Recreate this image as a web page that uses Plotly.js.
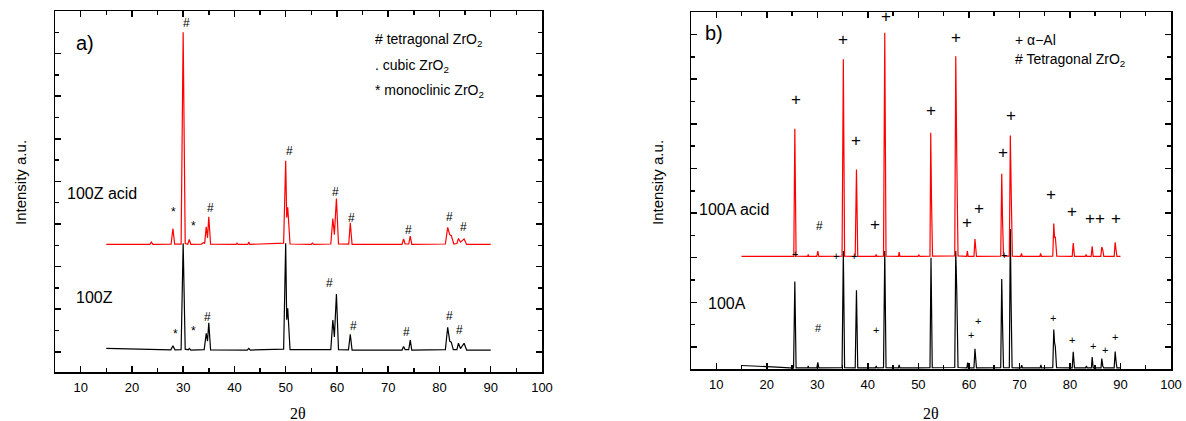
<!DOCTYPE html>
<html>
<head>
<meta charset="utf-8">
<script src="https://cdn.plot.ly/plotly-3.0.1.min.js"></script>
<style>html,body{margin:0;padding:0;background:#fff;}#chart{width:1186px;height:421px;}</style>
</head>
<body>
<div id="chart"></div>
<script>
// Panel a) 100Z pattern (black) — vertices
var zX = [15,20,25,27.6,28.0,28.4,29.6,30.0,30.4,31.0,31.2,31.5,34.1,34.5,34.75,35.0,35.35,42.5,42.8,43.1,49.6,50.0,50.2,50.4,50.85,58.8,59.2,59.5,59.9,60.3,62.25,62.6,62.95,72.7,73.0,73.3,74.0,74.3,74.6,81.15,81.6,82.0,82.3,82.7,83.4,83.7,84.1,84.8,85.3,90];
var zY = [0.16,0.13,0.1,0.09,0.28,0.09,0.1,5.1,0.12,0.09,0.16,0.08,0.1,0.86,0.5,1.36,0.09,0.08,0.16,0.08,0.12,5.09,1.5,2.04,0.1,0.1,1.49,0.7,2.71,0.1,0.09,0.82,0.08,0.08,0.25,0.1,0.1,0.55,0.08,0.1,1.15,0.5,0.45,0.1,0.1,0.4,0.15,0.4,0.08,0.08];
// Panel a) 100Z acid pattern (red, offset as drawn)
var zaX = [15,23.5,23.8,24.1,27.65,28.0,28.35,29.6,30.0,30.4,30.9,31.2,31.5,33.6,33.9,34.2,34.5,34.75,35.0,35.35,40.3,40.5,40.7,42.6,42.8,43.0,49.6,50.0,50.2,50.4,50.85,55.0,55.2,55.5,58.8,59.2,59.5,59.9,60.3,62.3,62.6,62.95,72.7,73.0,73.3,74.0,74.3,74.6,81.15,81.6,82.0,82.3,82.8,83.4,83.7,84.1,84.8,85.3,90];
var zaY = [5.04,5.04,5.15,5.04,5.05,5.79,5.05,5.05,15.0,5.08,5.05,5.27,5.04,5.05,5.12,5.1,5.87,5.35,6.34,5.05,5.04,5.1,5.04,5.04,5.15,5.04,5.1,8.97,6.3,6.78,5.06,5.04,5.1,5.04,5.06,6.26,5.5,7.2,5.06,5.05,6.06,5.04,5.04,5.3,5.06,5.06,5.43,5.04,5.06,5.84,5.5,5.45,5.06,5.08,5.32,5.15,5.3,5.04,5.04];
// Panel b) 100A pattern (black)
var aX = [15,18,22,25.3,25.55,25.8,28.1,28.2,28.3,29.9,30.1,30.3,34.9,35.15,35.4,37.5,37.75,38.0,41.5,41.65,41.8,43.1,43.35,43.6,46.05,46.2,46.35,50,52.3,52.5,52.6,52.75,57.2,57.4,57.6,57.85,59.6,59.75,59.9,61.0,61.2,61.35,61.5,66.3,66.5,66.65,66.85,68.0,68.2,68.35,68.55,70.3,70.45,70.6,74.1,74.25,74.4,76.6,76.8,76.95,77.1,77.35,80.45,80.65,80.9,83.1,83.25,83.4,84.25,84.4,84.6,86.15,86.3,86.5,86.7,88.75,88.95,89.15,89.3,90];
var aY = [-0.83,-0.85,-0.9,-0.95,2.94,-0.94,-0.94,-0.85,-0.94,-0.94,-0.69,-0.94,-0.93,4.3,-0.93,-0.94,2.54,-0.94,-0.94,-0.85,-0.94,-0.93,4.3,-0.93,-0.94,-0.8,-0.94,-0.94,-0.93,4.0,1.6,-0.93,-0.92,4.3,2.5,-0.92,-0.94,-0.7,-0.94,-0.94,-0.08,-0.5,-0.94,-0.93,3.05,1.1,-0.93,-0.93,5.29,2.05,-0.93,-0.94,-0.82,-0.94,-0.94,-0.8,-0.94,-0.93,0.78,0.2,0.03,-0.93,-0.94,-0.22,-0.94,-0.94,-0.85,-0.94,-0.94,-0.45,-0.94,-0.94,-0.52,-0.85,-0.94,-0.94,-0.2,-0.7,-0.94,-0.94];
// Panel b) 100A acid pattern (red)
var aaX = [15,25.35,25.55,25.8,28.1,28.2,28.3,29.9,30.1,30.3,34.9,35.15,35.4,37.5,37.75,38.0,41.5,41.65,41.8,43.1,43.35,43.6,46.05,46.2,46.35,49.9,50.1,50.3,52.3,52.45,52.6,52.8,57.2,57.4,57.6,57.85,59.55,59.7,59.85,61.0,61.2,61.35,61.5,66.3,66.5,66.65,66.85,68.0,68.2,68.4,68.6,70.25,70.4,70.55,74.05,74.2,74.35,76.6,76.8,76.95,77.1,77.4,80.45,80.65,80.9,83.05,83.2,83.35,84.2,84.4,84.6,86.1,86.3,86.5,86.7,88.75,88.95,89.15,89.3,90];
var aaY = [4.06,4.06,9.78,4.07,4.06,4.15,4.06,4.06,4.3,4.06,4.07,12.9,4.07,4.06,7.95,4.06,4.06,4.15,4.06,4.07,14.08,4.07,4.06,4.25,4.06,4.06,4.12,4.06,4.07,9.6,6.6,4.07,4.08,13.03,8.5,4.08,4.06,4.3,4.06,4.06,4.84,4.5,4.06,4.07,7.76,5.8,4.07,4.07,9.48,6.6,4.07,4.06,4.2,4.06,4.06,4.2,4.06,4.07,5.53,4.9,4.95,4.07,4.06,4.66,4.06,4.06,4.15,4.06,4.06,4.51,4.06,4.06,4.48,4.35,4.06,4.06,4.69,4.3,4.06,4.06];

// Peak markers, panel a
var markAText = ['#','*','*','#','#','#','#','#','#','#','*','*','#','#','#','#','#','#'];
var markAX = [30.7,28.1,32.0,35.4,50.8,59.8,62.8,73.9,81.9,84.7,28.45,32.0,34.75,58.47,63.3,73.55,81.9,83.9];
var markAY = [15.45,6.57,5.9,6.73,9.44,7.51,6.26,5.71,6.31,5.87,0.82,0.97,1.64,3.24,1.2,0.94,1.67,1.02];
// Peak markers, panel b (large)
var markBText = ['+','+','+','+','+','#','+','+','+','+','+','+','+','+','+','+','+'];
var markBX = [25.8,35.0,37.7,43.6,41.4,30.4,57.5,52.5,68.4,66.8,59.6,62.0,76.3,80.4,84.0,86.0,89.1];
var markBY = [11.1,13.78,9.25,14.83,5.48,5.44,13.88,10.6,10.37,8.73,5.59,6.2,6.83,6.08,5.78,5.74,5.78];
// Peak markers, panel b (small)
var markCText = ['+','+','+','+','#','+','+','+','+','+','+','+','+'];
var markCX = [25.6,33.7,37.3,67.0,30.3,41.55,60.45,61.9,76.6,80.4,84.5,87.0,89.0];
var markCY = [4.17,4.06,4.1,4.14,0.85,0.74,0.52,1.15,1.3,0.31,0.03,-0.15,0.43];

var FONT = 'Liberation Sans, Arial, sans-serif';

var traces = [
  {x: zX, y: zY, xaxis: 'x', yaxis: 'y', mode: 'lines', line: {color: '#000000', width: 1.2}, hoverinfo: 'skip'},
  {x: zaX, y: zaY, xaxis: 'x', yaxis: 'y', mode: 'lines', line: {color: '#ff0000', width: 1.2}, hoverinfo: 'skip'},
  {x: aX, y: aY, xaxis: 'x2', yaxis: 'y2', mode: 'lines', line: {color: '#000000', width: 1.2}, hoverinfo: 'skip'},
  {x: aaX, y: aaY, xaxis: 'x2', yaxis: 'y2', mode: 'lines', line: {color: '#ff0000', width: 1.2}, hoverinfo: 'skip'}
];

var ann = [];
function txt(xr, yr, x, y, t, size, anchor, fam) {
  ann.push({xref: xr, yref: yr, x: x, y: y, text: t, showarrow: false, xanchor: anchor || 'center', yanchor: 'middle',
    font: {family: fam || FONT, size: size, color: '#000000'}});
}
for (var i = 0; i < markAText.length; i++) txt('x', 'y', markAX[i], markAY[i], markAText[i], 12);
for (var j = 0; j < markBText.length; j++) txt('x2', 'y2', markBX[j], markBY[j], markBText[j], markBText[j] === '#' ? 12 : 17);
for (var k = 0; k < markCText.length; k++) txt('x2', 'y2', markCX[k], markCY[k], markCText[k], 11);

txt('x', 'y', 8.7, 14.48, 'a)', 20, 'left');
txt('x', 'y', 6.95, 7.44, '100Z acid', 16, 'left');
txt('x', 'y', 8.7, 2.54, '100Z', 16, 'left');
txt('x', 'y', 67.05, 14.63, '# tetragonal ZrO<sub>2</sub>', 14, 'left');
txt('x', 'y', 67.05, 13.43, '. cubic ZrO<sub>2</sub>', 14, 'left');
txt('x', 'y', 67.05, 12.25, '* monoclinic ZrO<sub>2</sub>', 14, 'left');

txt('x2', 'y2', 7.3, 14.08, 'b)', 20, 'left');
txt('x2', 'y2', 6.25, 6.16, '100A acid', 16, 'left');
txt('x2', 'y2', 7.97, 1.94, '100A', 16, 'left');
txt('x2', 'y2', 68.82, 13.78, '+ \u03b1\u2212Al', 14, 'left');
txt('x2', 'y2', 68.82, 12.84, '# Tetragonal ZrO<sub>2</sub>', 14, 'left');

// axis titles
ann.push({xref: 'paper', yref: 'paper', x: 20/1186, y: (421-183)/421, text: 'Intensity a.u.', textangle: -90, showarrow: false, xanchor: 'center', yanchor: 'middle', font: {family: FONT, size: 15, color: '#000'}});
ann.push({xref: 'paper', yref: 'paper', x: 657/1186, y: (421-183)/421, text: 'Intensity a.u.', textangle: -90, showarrow: false, xanchor: 'center', yanchor: 'middle', font: {family: FONT, size: 15, color: '#000'}});
ann.push({xref: 'paper', yref: 'paper', x: 298/1186, y: (421-413)/421, text: '2\u03b8', showarrow: false, xanchor: 'center', yanchor: 'middle', font: {family: 'Liberation Serif, Times New Roman, serif', size: 16, color: '#000'}});
ann.push({xref: 'paper', yref: 'paper', x: 931/1186, y: (421-413)/421, text: '2\u03b8', showarrow: false, xanchor: 'center', yanchor: 'middle', font: {family: 'Liberation Serif, Times New Roman, serif', size: 16, color: '#000'}});

function xax(dom, anchor) {
  return {domain: dom, anchor: anchor, range: [5, 100], showline: true, linewidth: 1.5, linecolor: '#000', mirror: 'ticks',
    ticks: 'inside', ticklen: 6, tickwidth: 1.5, tickcolor: '#000', tick0: 0, dtick: 10,
    minor: {dtick: 5, ticks: 'inside', ticklen: 4, tickwidth: 1.5, tickcolor: '#000'},
    showgrid: false, zeroline: false, tickfont: {family: FONT, size: 13, color: '#000'}, ticklabelstandoff: 3, fixedrange: true};
}
function yax(dom, anchor, rng) {
  return {domain: dom, anchor: anchor, range: rng, showline: true, linewidth: 1.5, linecolor: '#000', mirror: 'ticks',
    ticks: 'inside', ticklen: 6, tickwidth: 1.5, tickcolor: '#000', tick0: 0, dtick: 2,
    minor: {dtick: 1, ticks: 'inside', ticklen: 4, tickwidth: 1.5, tickcolor: '#000'},
    showticklabels: false, showgrid: false, zeroline: false, fixedrange: true};
}

var layout = {
  width: 1186, height: 421, margin: {l: 0, r: 0, t: 0, b: 0},
  paper_bgcolor: '#fff', plot_bgcolor: '#fff', showlegend: false,
  xaxis: xax([55/1186, 542/1186], 'y'),
  yaxis: yax([(421-372)/421, (421-11)/421], 'x', [-0.95, 16]),
  xaxis2: xax([691/1186, 1171/1186], 'y2'),
  yaxis2: yax([(421-369.3)/421, (421-12.3)/421], 'x2', [-1, 15]),
  annotations: ann
};

Plotly.newPlot('chart', traces, layout, {displayModeBar: false, staticPlot: true});
</script>
</body>
</html>
